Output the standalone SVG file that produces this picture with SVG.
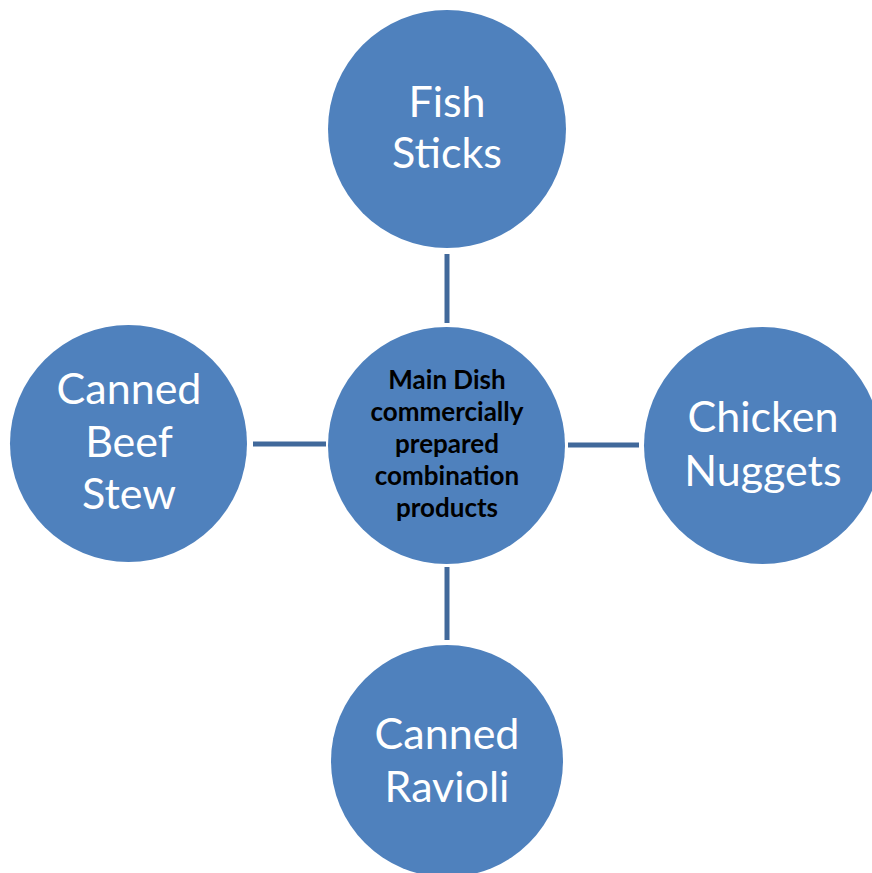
<svg xmlns="http://www.w3.org/2000/svg" width="872" height="873" viewBox="0 0 872 873">
<style>
.node{fill:#4F81BD}
.lbl{font-family:Lato,"Open Sans","Liberation Sans",sans-serif;font-size:43px;fill:#FFFFFF;text-anchor:middle}
.ctr{font-family:Lato,"Open Sans","Liberation Sans",sans-serif;font-size:26px;font-weight:bold;fill:#000000;text-anchor:middle}
.conn{stroke:#41699B;stroke-width:5;fill:none}
</style>
<rect width="872" height="873" fill="#FFFFFF"/>
<g id="connectors">
<line class="conn" x1="447" y1="254" x2="447" y2="323"/>
<line class="conn" x1="253" y1="444" x2="326" y2="444"/>
<line class="conn" x1="568" y1="445" x2="639" y2="445"/>
<line class="conn" x1="447" y1="567" x2="447" y2="640"/>
</g>
<g id="center">
<circle class="node" cx="446.5" cy="445.5" r="118.5"/>
<text class="ctr"><tspan x="447" y="389">Main Dish</tspan><tspan x="447" y="421">commercially</tspan><tspan x="447" y="453">prepared</tspan><tspan x="447" y="485">combination</tspan><tspan x="447" y="517">products</tspan></text>
</g>
<g id="fish-sticks">
<circle class="node" cx="447" cy="129" r="119"/>
<text class="lbl"><tspan x="447" y="117">Fish</tspan><tspan x="447" y="168">Sticks</tspan></text>
</g>
<g id="canned-beef-stew">
<circle class="node" cx="128.5" cy="443.5" r="118.5"/>
<text class="lbl"><tspan x="129" y="404">Canned</tspan><tspan x="129" y="457">Beef</tspan><tspan x="129" y="509">Stew</tspan></text>
</g>
<g id="chicken-nuggets">
<circle class="node" cx="762.5" cy="445.5" r="118.5"/>
<text class="lbl"><tspan x="763" y="432">Chicken</tspan><tspan x="763" y="486">Nuggets</tspan></text>
</g>
<g id="canned-ravioli">
<circle class="node" cx="447" cy="761" r="116"/>
<text class="lbl"><tspan x="447" y="749">Canned</tspan><tspan x="447" y="802">Ravioli</tspan></text>
</g>
</svg>
